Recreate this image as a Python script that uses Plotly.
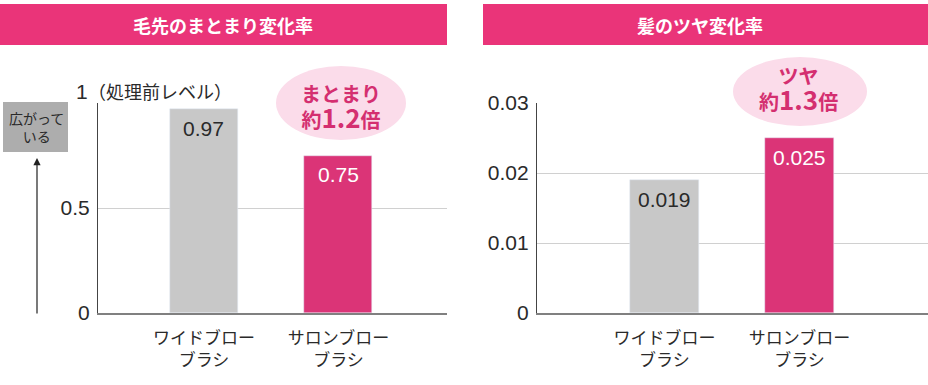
import plotly.graph_objects as go

categories = ["ワイドブロー<br>ブラシ", "サロンブロー<br>ブラシ"]
matomari_values = [0.97, 0.75]
tsuya_values = [0.019, 0.025]
matomari_labels = ["0.97", "0.75"]
tsuya_labels = ["0.019", "0.025"]
left_ticks = [0, 0.5, 1]
left_ticktext = ["0", "0.5", ""]
right_ticks = [0, 0.01, 0.02, 0.03]
right_ticktext = ["0", "0.01", "0.02", "0.03"]

W, H = 928, 385
GRAY = "#C8C8C8"
PINK = "#DB3477"
TITLE_PINK = "#EA3479"
BUBBLE = "#FBDCEA"
BUBBLE_TXT = "#D42F70"
TXT = "#2A2A2A"
NUM_FONT = "Liberation Sans, Noto Sans CJK JP"
JP_FONT = "Noto Sans CJK JP"
LABEL_COLORS = [TXT, "white"]

def px(x):
    return x / W

def py(y):
    return (H - y) / H

fig = go.Figure()
fig.add_trace(go.Bar(
    x=categories, y=matomari_values, marker_color=[GRAY, PINK], width=0.506,
    xaxis="x", yaxis="y", showlegend=False, hoverinfo="skip"))
fig.add_trace(go.Bar(
    x=categories, y=tsuya_values, marker_color=[GRAY, PINK], width=0.51,
    xaxis="x2", yaxis="y2", showlegend=False, hoverinfo="skip"))

ydom = [py(313), py(103)]
common_x = dict(showgrid=False, showline=True, linecolor="#808080", linewidth=1.5,
                ticks="", tickfont=dict(size=17, color=TXT, family=JP_FONT),
                ticklabelstandoff=9,
                zeroline=False, fixedrange=True, automargin=False)
common_y = dict(showgrid=True, gridcolor="#D0D0D0", gridwidth=1, showline=True,
                linecolor="#444444", linewidth=1.2, ticks="", zeroline=False,
                tickfont=dict(size=21, color=TXT, family=NUM_FONT), fixedrange=True,
                ticklabelstandoff=3, automargin=False)

fig.update_layout(
    width=W, height=H, autosize=False, margin=dict(l=0, r=0, t=0, b=0, pad=0),
    paper_bgcolor="white", plot_bgcolor="white",
    bargap=0,
    xaxis=dict(domain=[px(98), px(447)], range=[-0.788, 1.807], anchor="y", **common_x),
    yaxis=dict(domain=ydom, range=[0, 1], tickvals=left_ticks, ticktext=left_ticktext,
               anchor="x", **common_y),
    xaxis2=dict(domain=[px(537), 1.0], range=[-0.944, 1.952], anchor="y2", **common_x),
    yaxis2=dict(domain=ydom, range=[0, 0.03], tickvals=right_ticks, ticktext=right_ticktext,
                anchor="x2", **common_y),
    font=dict(family=JP_FONT, color=TXT),
)

shapes = [
    dict(type="rect", xref="paper", yref="paper", x0=px(0), x1=px(447), y0=py(45), y1=py(4),
         fillcolor=TITLE_PINK, line=dict(width=0), layer="below"),
    dict(type="rect", xref="paper", yref="paper", x0=px(483), x1=px(928), y0=py(45), y1=py(4),
         fillcolor=TITLE_PINK, line=dict(width=0), layer="below"),
    dict(type="rect", xref="paper", yref="paper", x0=px(3), x1=px(68), y0=py(152), y1=py(102),
         fillcolor="#ADADAD", line=dict(width=0)),
    dict(type="circle", xref="paper", yref="paper", x0=px(276), x1=px(406), y0=py(140), y1=py(66),
         fillcolor=BUBBLE, line=dict(width=0), layer="above"),
    dict(type="circle", xref="paper", yref="paper", x0=px(733), x1=px(867), y0=py(126), y1=py(57),
         fillcolor=BUBBLE, line=dict(width=0), layer="above"),
]
fig.update_layout(shapes=shapes)

def note(text, x, y, size, color=TXT, family=JP_FONT, xanchor="center"):
    return dict(text=text, x=px(x), y=py(y), xref="paper", yref="paper",
                xanchor=xanchor, yanchor="middle", showarrow=False,
                font=dict(size=size, color=color, family=family))

def bar_label(xref, yref, cat, val, label, color):
    return dict(text=label, x=cat, y=val, xref=xref, yref=yref, xanchor="center",
                yanchor="middle", yshift=-19, showarrow=False,
                font=dict(size=21, color=color, family=NUM_FONT))

ann = [
    note("<b>毛先のまとまり変化率</b>", 223, 25, 18, "white"),
    note("<b>髪のツヤ変化率</b>", 700, 25, 18, "white"),
    note("1", 90, 92, 21, TXT, NUM_FONT, "right"),
    note("（処理前レベル）", 86, 91, 18, TXT, JP_FONT, "left"),
    note("広がって<br>いる", 36, 127, 14),
    note("<b>まとまり<br>約<span style='font-size:26px'>1.2</span>倍</b>", 341, 107, 20, BUBBLE_TXT),
    note("<b>ツヤ<br>約<span style='font-size:26px'>1.3</span>倍</b>", 798, 89, 20, BUBBLE_TXT),
    dict(text="", x=px(37), y=py(158), xref="paper", yref="paper",
         showarrow=True, ax=0, ay=157, arrowhead=2, arrowsize=1.2, arrowwidth=1.2,
         arrowcolor="#222222"),
]
for cat, val, lab, col in zip(categories, matomari_values, matomari_labels, LABEL_COLORS):
    ann.append(bar_label("x", "y", cat, val, lab, col))
for cat, val, lab, col in zip(categories, tsuya_values, tsuya_labels, LABEL_COLORS):
    ann.append(bar_label("x2", "y2", cat, val, lab, col))
fig.update_layout(annotations=ann)

fig.write_html("out.html", config={"displayModeBar": False},
               post_script="document.body.style.margin='0';")
